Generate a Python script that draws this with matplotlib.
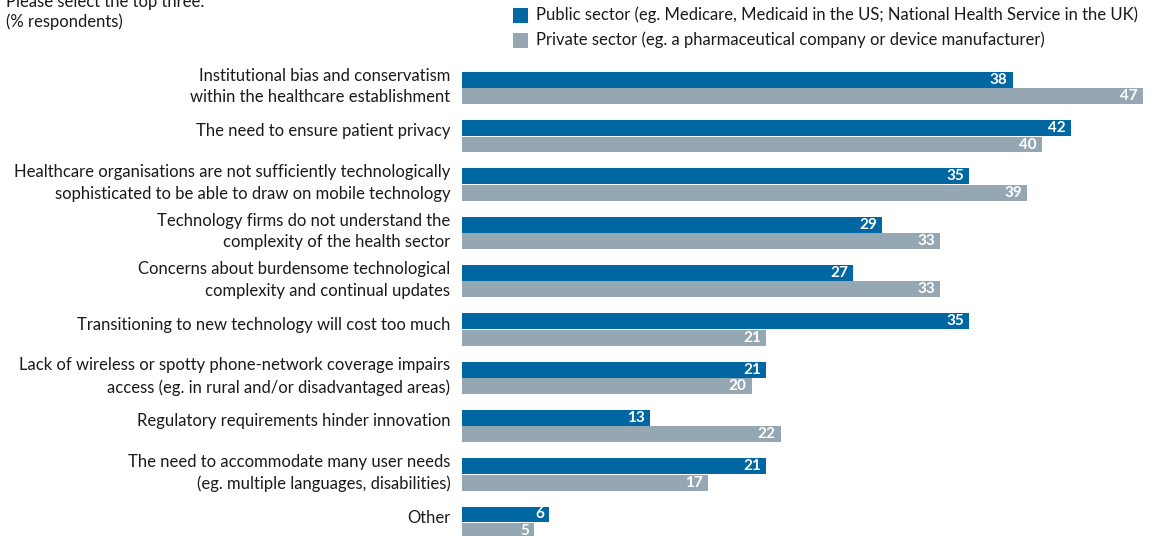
import matplotlib
matplotlib.use("Agg")
import matplotlib.pyplot as plt
from matplotlib.patches import Rectangle

categories = [
    "Institutional bias and conservatism\nwithin the healthcare establishment",
    "The need to ensure patient privacy",
    "Healthcare organisations are not sufficiently technologically\nsophisticated to be able to draw on mobile technology",
    "Technology firms do not understand the\ncomplexity of the health sector",
    "Concerns about burdensome technological\ncomplexity and continual updates",
    "Transitioning to new technology will cost too much",
    "Lack of wireless or spotty phone-network coverage impairs\naccess (eg. in rural and/or disadvantaged areas)",
    "Regulatory requirements hinder innovation",
    "The need to accommodate many user needs\n(eg. multiple languages, disabilities)",
    "Other",
]
public = [38, 42, 35, 29, 27, 35, 21, 13, 21, 6]
private = [47, 40, 39, 33, 33, 21, 20, 22, 17, 5]
series_names = [
    "Public sector (eg. Medicare, Medicaid in the US; National Health Service in the UK)",
    "Private sector (eg. a pharmaceutical company or device manufacturer)",
]
c_pub = "#0067a3"
c_priv = "#94a7b2"

W, H = 1157, 536
plt.rcParams['font.family'] = ['Lato', 'DejaVu Sans']
fig = plt.figure(figsize=(W/100, H/100), dpi=100)

x0, x1 = 462, 1143
top_px = 64
ax = fig.add_axes([x0/W, 0, (x1-x0)/W, (H-top_px)/H])
ax.set_xlim(0, 47)
pitch = 48.3
ax.set_ylim((H-88)/pitch, (top_px-88)/pitch)
ax.axis('off')

ys = list(range(len(categories)))
bh = 0.33
off = 0.17
ax.barh([y-off for y in ys], public, height=bh, color=c_pub, linewidth=0)
ax.barh([y+off for y in ys], private, height=bh, color=c_priv, linewidth=0)

for y, v in zip(ys, public):
    ax.text(v-0.35, y-off, str(v), ha='right', va='center', color='white',
            fontsize=11, fontweight='bold')
for y, v in zip(ys, private):
    ax.text(v-0.35, y+off, str(v), ha='right', va='center', color='white',
            fontsize=11, fontweight='bold')

for y, lab in zip(ys, categories):
    dy = -0.03 if "\n" in lab else -0.1
    ax.text(-0.8, y+dy, lab, ha='right', va='center', fontsize=12,
            color='#1a1a1a', linespacing=1.45)

# header
fig.text(6/W, 1-2/H, "Please select the top three.", ha='left', va='center',
         fontsize=12, color='#1a1a1a')
fig.text(6/W, 1-22/H, "(% respondents)", ha='left', va='center',
         fontsize=12, color='#1a1a1a')

# legend
for i, (name, col) in enumerate(zip(series_names, [c_pub, c_priv])):
    yc = 15.5 + 25*i
    fig.patches.append(Rectangle((513/W, 1-(yc+7.5)/H), 15/W, 15/H,
                                 transform=fig.transFigure, color=col, linewidth=0))
    fig.text(536/W, 1-(yc-1)/H, name, ha='left', va='center', fontsize=12,
             color='#1a1a1a')

fig.savefig("out.png", dpi=100)
